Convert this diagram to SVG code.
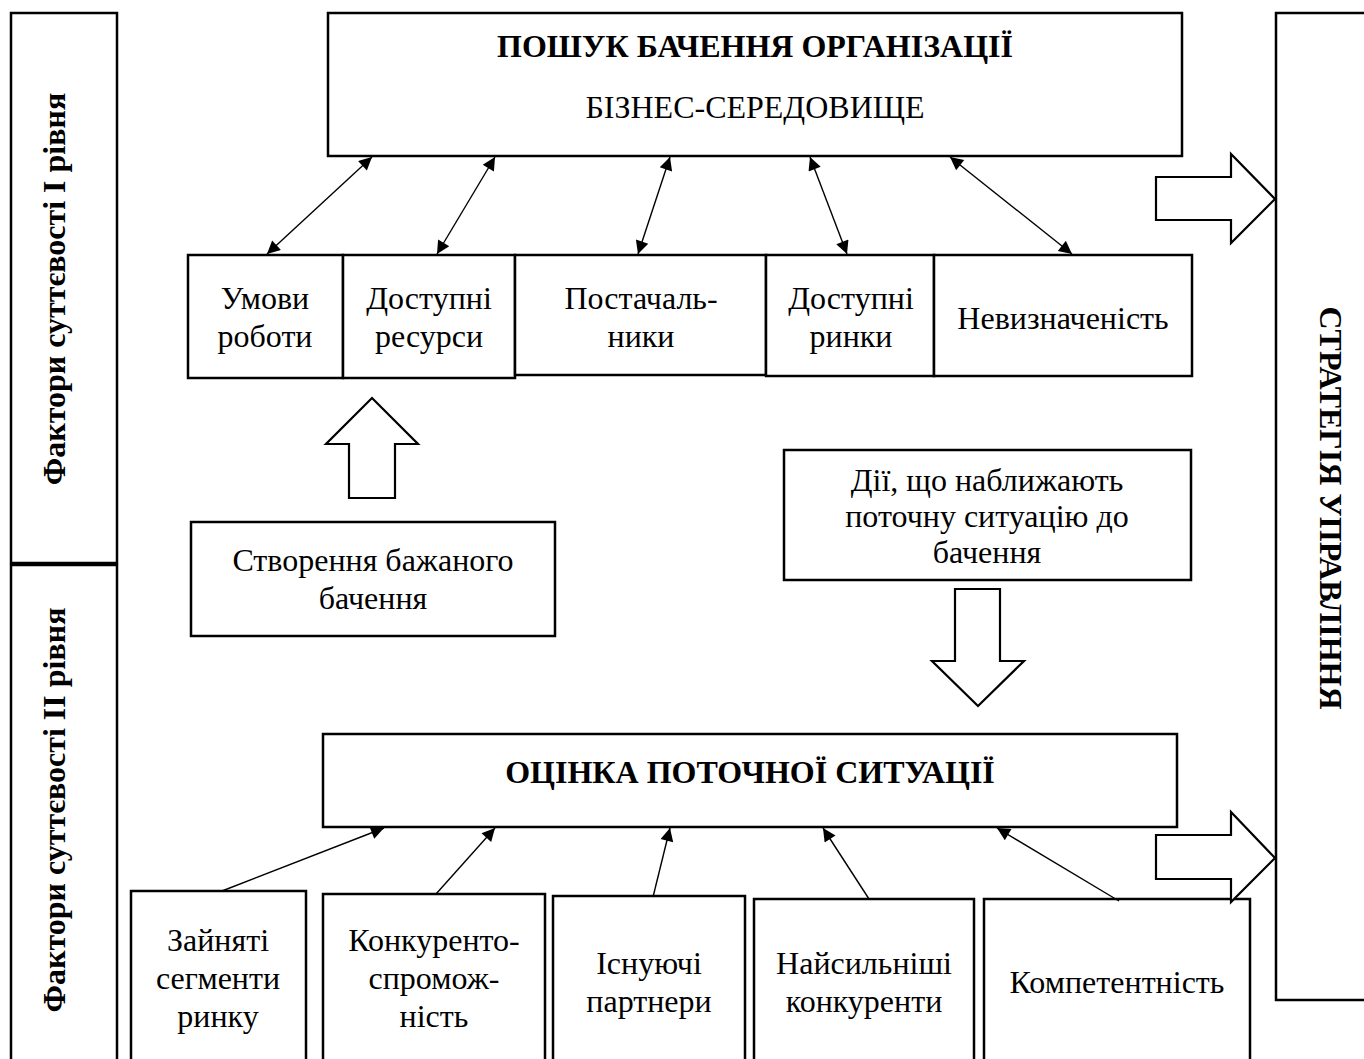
<svg xmlns="http://www.w3.org/2000/svg" width="1364" height="1059" viewBox="0 0 1364 1059">
<defs>
<style>
.box{fill:#fff;stroke:#000;stroke-width:2.5}
.blk{fill:#fff;stroke:#000;stroke-width:2.2;stroke-linejoin:miter}
.t{font-family:"Liberation Serif","Times New Roman",serif;font-size:32px;fill:#000;text-anchor:middle}
.b{font-weight:bold}
.c{fill:none;stroke:#000;stroke-width:1.4}
</style>
<marker id="ah" viewBox="0 0 10 10" refX="10" refY="5" markerWidth="17" markerHeight="13" markerUnits="userSpaceOnUse" orient="auto-start-reverse">
<path d="M0,0 L10,5 L0,10 z" fill="#000"/>
</marker>
</defs>
<rect x="0" y="0" width="1364" height="1059" fill="#fff"/>

<g id="level1">
<rect class="box" x="11" y="13" width="106" height="550"/>
<text class="t b" transform="translate(65,289) rotate(-90)">Фактори суттєвості І рівня</text>
</g>
<g id="level2">
<rect class="box" x="11" y="565" width="106" height="510"/>
<text class="t b" transform="translate(65,810) rotate(-90)">Фактори суттєвості ІІ рівня</text>
</g>
<line x1="11" y1="564" x2="117" y2="564" stroke="#000" stroke-width="4"/>

<g id="strategy">
<rect class="box" x="1276" y="13" width="110" height="987"/>
<text class="t b" transform="translate(1320,508) rotate(90)">СТРАТЕГІЯ УПРАВЛІННЯ</text>
</g>

<g id="vision">
<rect class="box" x="328" y="13" width="854" height="143"/>
<text class="t b" x="755" y="57">ПОШУК БАЧЕННЯ ОРГАНІЗАЦІЇ</text>
<text class="t" x="755" y="118">БІЗНЕС-СЕРЕДОВИЩЕ</text>
</g>

<g id="umovy">
<rect class="box" x="188" y="255" width="155" height="123"/>
<text class="t" x="265" y="309">Умови</text>
<text class="t" x="265" y="347">роботи</text>
</g>
<g id="resursy">
<rect class="box" x="343" y="255" width="172" height="123"/>
<text class="t" x="429" y="309">Доступні</text>
<text class="t" x="429" y="347">ресурси</text>
</g>
<g id="postachalnyky">
<rect class="box" x="515" y="255" width="251" height="120"/>
<text class="t" x="641" y="309">Постачаль-</text>
<text class="t" x="641" y="347">ники</text>
</g>
<g id="rynky">
<rect class="box" x="766" y="255" width="168" height="121"/>
<text class="t" x="851" y="309">Доступні</text>
<text class="t" x="851" y="347">ринки</text>
</g>
<g id="nevyznachenist">
<rect class="box" x="934" y="255" width="258" height="121"/>
<text class="t" x="1063" y="329">Невизначеність</text>
</g>

<g id="stvorennia">
<rect class="box" x="191" y="522" width="364" height="114"/>
<text class="t" x="373" y="571">Створення бажаного</text>
<text class="t" x="373" y="609">бачення</text>
</g>

<g id="dii">
<rect class="box" x="784" y="450" width="407" height="130"/>
<text class="t" x="987" y="491">Дії, що наближають</text>
<text class="t" x="987" y="527">поточну ситуацію до</text>
<text class="t" x="987" y="563">бачення</text>
</g>

<g id="otsinka">
<rect class="box" x="323" y="734" width="854" height="93"/>
<text class="t b" x="750" y="783">ОЦІНКА ПОТОЧНОЇ СИТУАЦІЇ</text>
</g>

<g id="segmenty">
<rect class="box" x="131" y="891" width="175" height="180"/>
<text class="t" x="218" y="951">Зайняті</text>
<text class="t" x="218" y="989">сегменти</text>
<text class="t" x="218" y="1027">ринку</text>
</g>
<g id="konkurento">
<rect class="box" x="323" y="894" width="222" height="180"/>
<text class="t" x="434" y="951">Конкуренто-</text>
<text class="t" x="434" y="989">спромож-</text>
<text class="t" x="434" y="1027">ність</text>
</g>
<g id="partnery">
<rect class="box" x="553" y="896" width="192" height="180"/>
<text class="t" x="649" y="974">Існуючі</text>
<text class="t" x="649" y="1012">партнери</text>
</g>
<g id="naisylnishi">
<rect class="box" x="754" y="899" width="220" height="180"/>
<text class="t" x="864" y="974">Найсильніші</text>
<text class="t" x="864" y="1012">конкуренти</text>
</g>
<g id="kompetentnist">
<rect class="box" x="984" y="899" width="266" height="180"/>
<text class="t" x="1117" y="993">Компетентність</text>
</g>

<g id="connectors">
<line class="c" x1="372" y1="157" x2="267" y2="254" marker-start="url(#ah)" marker-end="url(#ah)"/>
<line class="c" x1="495" y1="157" x2="437" y2="254" marker-start="url(#ah)" marker-end="url(#ah)"/>
<line class="c" x1="670" y1="157" x2="638" y2="254" marker-start="url(#ah)" marker-end="url(#ah)"/>
<line class="c" x1="810" y1="157" x2="847" y2="254" marker-start="url(#ah)" marker-end="url(#ah)"/>
<line class="c" x1="950" y1="157" x2="1072" y2="254" marker-start="url(#ah)" marker-end="url(#ah)"/>

<line class="c" x1="222" y1="891" x2="384" y2="828" marker-end="url(#ah)"/>
<line class="c" x1="436" y1="894" x2="495" y2="828" marker-end="url(#ah)"/>
<line class="c" x1="653" y1="897" x2="670" y2="828" marker-end="url(#ah)"/>
<line class="c" x1="869" y1="899" x2="823" y2="828" marker-end="url(#ah)"/>
<line class="c" x1="1119" y1="901" x2="997" y2="828" marker-end="url(#ah)"/>

<polygon class="blk" points="1156,177 1231,177 1231,154 1275,199 1231,243 1231,220 1156,220"/>
<polygon class="blk" points="1156,835 1231,835 1231,812 1275,858 1231,902 1231,879 1156,879"/>
<polygon class="blk" points="349,498 349,444 326,444 372,398 418,444 395,444 395,498"/>
<polygon class="blk" points="955,589 1000,589 1000,661 1024,661 978,706 932,661 955,661"/>
</g>
</svg>
